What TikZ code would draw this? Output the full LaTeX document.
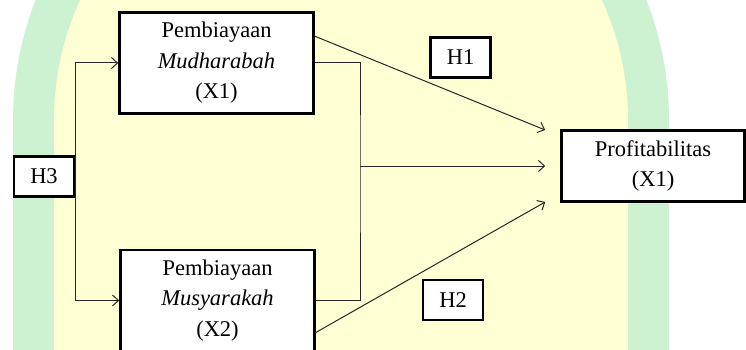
\documentclass[tikz,border=0pt]{standalone}
\usepackage{fontspec}
\setmainfont{Liberation Serif}
\usetikzlibrary{arrows.meta}
\definecolor{archgreen}{RGB}{204,242,209}
\definecolor{archyellow}{RGB}{255,255,212}
\begin{document}
\begin{tikzpicture}[x=1pt,y=-1pt,
  boxtext/.style={font=\fontsize{22.5}{30.5}\selectfont},
  varbox/.style={boxtext, draw=black, line width=2.6pt, fill=white,
    align=center, inner sep=0pt},
  hypbox/.style={boxtext, draw=black, line width=2.6pt, fill=white,
    inner sep=0pt, minimum width=60pt, minimum height=40pt},
  link/.style={draw=black!85, line width=1pt},
  arrowlink/.style={link, -{Straight Barb[length=6pt,width=11pt]}}
]
\useasboundingbox (0,0) rectangle (746,350);
\fill[white] (0,0) rectangle (746,350);

% background arch
\fill[archgreen] (13,352) -- (13,120) arc[start angle=180, end angle=360, radius=328] -- (669,352) -- cycle;
\fill[archyellow] (54,352) -- (54,120) arc[start angle=180, end angle=360, radius=287] -- (628,352) -- cycle;

% variables
\node[varbox, minimum width=194pt, minimum height=101pt] (mA) at (216.5,63)
  {Pembiayaan\\ \textit{Mudharabah}\\ (X1)};
\node[varbox, minimum width=194pt, minimum height=101pt] (mB) at (217.5,300.5)
  {Pembiayaan\\ \textit{Musyarakah}\\ (X2)};
\node[varbox, minimum width=183pt, minimum height=71pt] (P) at (653,166)
  {Profitabilitas\\ (X1)};

% hypotheses
\node[hypbox] (H3) at (44,176.5) {H3};
\node[hypbox] (H1) at (460.5,57.5) {H1};
\node[hypbox] (H2) at (453,300) {H2};

% H3: joint links to both financing variables
\draw[arrowlink] (H3.east) |- (mA.west);
\draw[arrowlink] (H3.east) |- (mB.west);

% combined effect
\coordinate (jr) at (360,166);
\draw[link] (mA.east) -| (jr) |- (mB.east);
\draw[arrowlink, shorten >=15pt] (jr) -- (P.west);

% H1 and H2: partial effects
\draw[arrowlink] ([yshift=-25pt]mA.north east) -- ([xshift=-15pt,yshift=36pt]P.west);
\draw[arrowlink] ([yshift=-32pt]mB.east) -- ([xshift=-15pt,yshift=-36pt]P.west);
\end{tikzpicture}
\end{document}
